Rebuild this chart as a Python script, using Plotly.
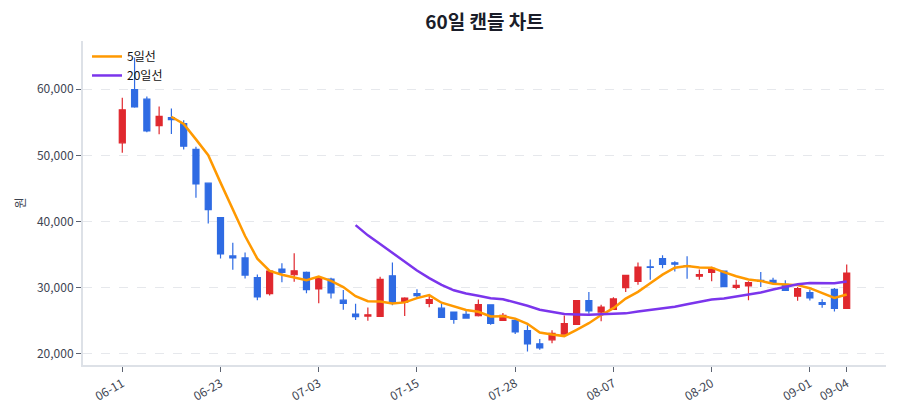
import pandas as pd
import plotly.graph_objects as go

# trading days (MM-DD), 60 sessions
dates = [
    "06-11", "06-12", "06-13", "06-16", "06-17", "06-18", "06-19", "06-20",
    "06-23", "06-24", "06-25", "06-26", "06-27", "06-30", "07-01", "07-02",
    "07-03", "07-04", "07-07", "07-08", "07-09", "07-10", "07-11", "07-14",
    "07-15", "07-16", "07-18", "07-21", "07-22", "07-23", "07-24", "07-25",
    "07-28", "07-29", "07-30", "07-31", "08-01", "08-04", "08-05", "08-06",
    "08-07", "08-08", "08-11", "08-12", "08-13", "08-14", "08-18", "08-19",
    "08-20", "08-21", "08-22", "08-25", "08-26", "08-27", "08-28", "08-29",
    "09-01", "09-02", "09-03", "09-04",
]
opens = [
    51900, 59950, 58500, 54500, 55700, 54800, 50900, 45800, 40600, 34800,
    34500, 31500, 29100, 32800, 31950, 32300, 29800, 31300, 28100, 26000,
    25700, 25650, 31800, 27800, 29100, 27600, 26900, 26300, 25950, 25750,
    27400, 25050, 25050, 23500, 21500, 22100, 22950, 24450, 28050, 26300,
    26700, 30000, 30950, 33150, 34400, 33750, 33300, 31720, 32300, 32500,
    30050, 30250, 31100, 31100, 30500, 28700, 29250, 27750, 29750, 26850,
]
highs = [
    58700, 64800, 58900, 57400, 57100, 55300, 51300, 45800, 40600, 36800,
    35300, 32000, 32600, 33700, 35200, 32450, 31750, 31500, 29650, 27550,
    27000, 31650, 33800, 28550, 29750, 28850, 27600, 26300, 26550, 28200,
    27500, 26150, 25250, 24300, 22250, 23550, 25800, 28100, 29350, 27400,
    28550, 31950, 33800, 34250, 34900, 34000, 34750, 32750, 33150, 32600,
    31200, 30950, 32350, 31500, 31100, 30100, 29700, 28250, 29950, 33500,
]
lows = [
    50400, 57200, 53500, 53200, 53250, 50900, 43600, 39700, 34400, 32700,
    31400, 28100, 28800, 30800, 30900, 29150, 27650, 28350, 26650, 25100,
    25000, 25600, 27350, 25700, 28600, 27050, 25500, 24550, 25350, 25650,
    24400, 24950, 23000, 20350, 20600, 21600, 22900, 24400, 26050, 24900,
    26650, 29350, 30450, 31200, 32950, 32450, 31350, 31200, 30950, 30100,
    29750, 28100, 30100, 30750, 29550, 28000, 28050, 26950, 26400, 26800,
]
closes = [
    56900, 57350, 53700, 55900, 55400, 51400, 45700, 41800, 35100, 34500,
    31900, 28600, 32500, 32300, 32550, 29700, 31400, 29200, 27600, 25600,
    25900, 31250, 27700, 28400, 28800, 28200, 25500, 25200, 25400, 27450,
    24600, 25800, 23300, 21500, 20900, 23100, 24550, 28050, 26500, 27050,
    28300, 31850, 33100, 33050, 33500, 33550, 33200, 31970, 32900, 30150,
    30350, 30750, 30950, 30750, 29600, 29850, 28450, 27450, 26850, 32200,
]
tick_idx = [0, 8, 16, 24, 32, 40, 48, 56, 59]

df = pd.DataFrame({"open": opens, "high": highs, "low": lows, "close": closes}, index=dates)
ma5 = df["close"].rolling(5).mean()
ma20 = df["close"].rolling(20).mean()

RED = "#e0282e"
BLUE = "#2f6be3"
FONT = "Noto Sans CJK KR"

fig = go.Figure()
fig.add_trace(go.Candlestick(
    x=df.index, open=df["open"], high=df["high"], low=df["low"], close=df["close"],
    increasing=dict(line=dict(color=RED, width=1.2), fillcolor=RED),
    decreasing=dict(line=dict(color=BLUE, width=1.2), fillcolor=BLUE),
    whiskerwidth=0, showlegend=False, name="",
))
fig.add_trace(go.Scatter(x=df.index, y=ma5, mode="lines", name="5일선", line=dict(color="#ff9900", width=2.5)))
fig.add_trace(go.Scatter(x=df.index, y=ma20, mode="lines", name="20일선", line=dict(color="#7b35ec", width=2.5)))

# --layout (page body adds an 8px offset, margins compensate for it)
fig.update_layout(
    width=900, height=420,
    margin=dict(l=75, r=22, t=33, b=63),
    paper_bgcolor="white", plot_bgcolor="white",
    font=dict(family=FONT, size=12, color="#3d4451"),
    title=dict(text="<b>60일 캔들 차트</b>", x=0.5, xref="paper", xanchor="center",
               y=1 - 14 / 420, yanchor="middle", font=dict(size=19, color="#1a1d29")),
    legend=dict(x=0.005, y=0.997, xanchor="left", yanchor="top", bgcolor="rgba(255,255,255,0)",
                font=dict(size=12, color="#111111")),
)
fig.update_xaxes(
    type="category", rangeslider_visible=False, range=[-3.2, 62.2], automargin=False,
    tickvals=[dates[i] for i in tick_idx], tickangle=-30,
    showgrid=False, showline=True, linecolor="#dde1e7", linewidth=2,
    ticks="outside", ticklen=5, tickcolor="#5b6270",
)
fig.update_yaxes(
    title=dict(text="원", font=dict(size=12), standoff=9), tickformat=",", dtick=10000,
    range=[18300, 67300], automargin=False,
    showgrid=True, gridcolor="#e6e8ec", griddash="dash", zeroline=False,
    showline=True, linecolor="#dde1e7", linewidth=2,
    ticks="outside", ticklen=5, tickcolor="#5b6270",
)

fig.write_html("out.html")
